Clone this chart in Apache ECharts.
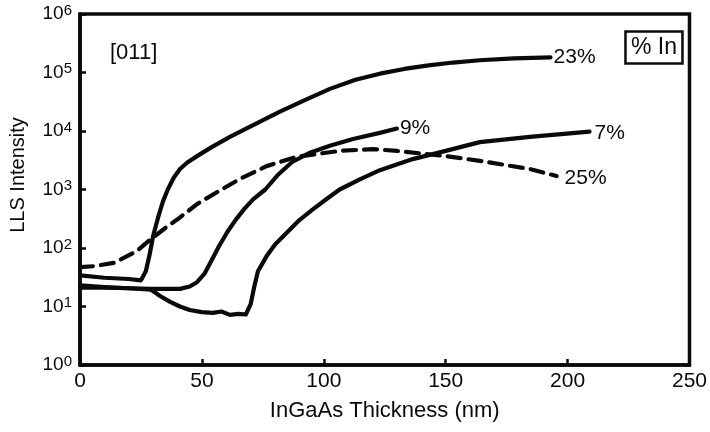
<!DOCTYPE html>
<html>
<head>
<meta charset="utf-8">
<script src="https://cdn.jsdelivr.net/npm/echarts@6/dist/echarts.min.js"></script>
<style>
  html, body { margin: 0; background: #fff; }
  #chart { width: 710px; height: 432px; }
</style>
</head>
<body>
<div id="chart"></div>
<script>
// thickness (nm) and LLS intensity
const x23 = [0, 10, 20, 25, 27, 28.5, 30, 32, 34, 36, 38.5, 41, 44, 48, 54, 61.5, 70, 82, 92, 102.5, 113, 123, 133, 143, 153, 164, 178, 193]
const y23 = [34, 31, 29.5, 28, 40, 75, 160, 330, 620, 1000, 1600, 2240, 2900, 3720, 5300, 7940, 12000, 21400, 33500, 52500, 75000, 95500, 115000, 132000, 148000, 162000, 175000, 182000]

const x9 = [0, 10, 20, 29, 41, 45, 48, 51, 54, 57, 60.5, 64, 67.5, 71, 76, 81, 87, 94, 102.5, 112, 123, 130]
const y9 = [21, 21, 20.5, 20, 20, 22, 26, 36, 62, 107, 190, 309, 470, 676, 1000, 1750, 2950, 4200, 5600, 7300, 9300, 11000]

const x7 = [0, 10, 20, 29, 33, 37, 41, 45, 50, 54.5, 58, 61.5, 65, 68, 70, 71.5, 73, 76.5, 80, 85, 90, 95.5, 101, 106.5, 115, 123, 136.5, 150, 164, 184.5, 209]
const y7 = [23, 21.5, 20.5, 19.5, 15, 12, 10, 8.7, 8.0, 7.8, 8.2, 7.2, 7.5, 7.3, 11, 22, 40, 72, 115, 186, 300, 457, 680, 1000, 1500, 2140, 3310, 4570, 6460, 7940, 9770]

const x25 = [0, 6, 14, 23, 29, 35, 40, 48, 56, 65.5, 76.5, 89, 106.5, 120, 130, 150, 164, 184.5, 195.5]
const y25 = [47, 49, 56, 87, 141, 220, 309, 562, 891, 1510, 2510, 3630, 4570, 4900, 4570, 3720, 3090, 2240, 1700]

const xTicks = [0, 50, 100, 150, 200, 250]
const yExponents = [0, 1, 2, 3, 4, 5, 6]

const font = 'Liberation Sans, Arial, sans-serif'
const ink = '#0a0a0a'

function pairs(xs, ys) {
  return xs.map((x, i) => [x, ys[i]])
}

function curve(name, xs, ys, dashed, labelOffset) {
  return {
    name: name,
    type: 'line',
    data: pairs(xs, ys),
    smooth: false,
    showSymbol: false,
    lineStyle: {
      color: ink,
      width: 4.2,
      type: dashed ? [13, 8] : 'solid',
      join: 'round',
      cap: 'round'
    },
    endLabel: {
      show: true,
      formatter: name,
      color: ink,
      fontFamily: font,
      fontSize: 21,
      distance: 3,
      offset: labelOffset || [0, 0]
    }
  }
}

const chart = echarts.init(document.getElementById('chart'))
chart.setOption({
  animation: false,
  backgroundColor: '#fff',
  title: {
    text: '% In',
    right: 27,
    top: 31,
    padding: [5, 6],
    borderColor: ink,
    borderWidth: 2.5,
    textStyle: {
      color: ink,
      fontFamily: font,
      fontSize: 23,
      fontWeight: 'normal'
    }
  },
  graphic: [{
    type: 'text',
    left: 110,
    top: 42,
    style: {
      text: '[011]',
      fill: ink,
      font: '22px ' + font
    }
  }, {
    type: 'text',
    x: 18,
    y: 175,
    rotation: Math.PI / 2,
    style: {
      text: 'LLS Intensity',
      fill: ink,
      font: '20px ' + font,
      align: 'center',
      verticalAlign: 'middle'
    }
  }],
  grid: {
    left: 80,
    right: 20,
    top: 14,
    bottom: 67,
    show: true,
    borderColor: ink,
    borderWidth: 3.5
  },
  xAxis: {
    type: 'value',
    min: xTicks[0],
    max: xTicks[xTicks.length - 1],
    interval: 50,
    name: 'InGaAs Thickness (nm)',
    nameLocation: 'middle',
    nameGap: 35,
    nameTextStyle: { color: ink, fontFamily: font, fontSize: 22 },
    axisLine: { lineStyle: { color: ink, width: 3.5 } },
    axisTick: { inside: true, length: 6, lineStyle: { color: ink, width: 2.5 } },
    axisLabel: { color: ink, fontFamily: font, fontSize: 21, margin: 6 },
    splitLine: { show: false }
  },
  yAxis: {
    type: 'log',
    logBase: 10,
    min: Math.pow(10, yExponents[0]),
    max: Math.pow(10, yExponents[yExponents.length - 1]),
    axisLine: { lineStyle: { color: ink, width: 3.5 } },
    axisTick: { inside: true, length: 6, lineStyle: { color: ink, width: 2.5 } },
    axisLabel: {
      margin: 8,
      formatter: function (v) {
        return '{b|10}{s|' + Math.round(Math.log10(v)) + '}'
      },
      rich: {
        b: { color: ink, fontFamily: font, fontSize: 19 },
        s: { color: ink, fontFamily: font, fontSize: 15, padding: [0, 0, 7, 0] }
      }
    },
    splitLine: { show: false },
    minorTick: { show: false }
  },
  series: [
    curve('23%', x23, y23, false),
    curve('9%', x9, y9, false),
    curve('7%', x7, y7, false, [2, 2]),
    curve('25%', x25, y25, true, [5, 2])
  ]
})
</script>
</body>
</html>
